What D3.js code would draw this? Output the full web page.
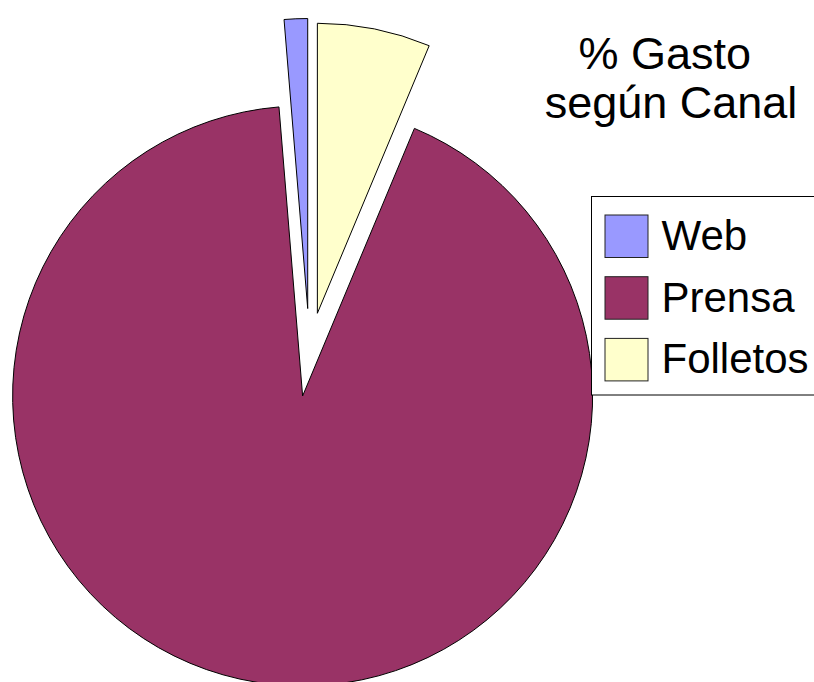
<!DOCTYPE html>
<html>
<head>
<meta charset="utf-8">
<script src="https://cdn.jsdelivr.net/npm/d3@7"></script>
<style>
  html, body { margin: 0; padding: 0; background: #fff; }
  svg { display: block; font-family: "Liberation Sans", Arial, sans-serif; }
</style>
</head>
<body>
<svg id="chart" width="814" height="682"></svg>
<script>
// Spending share by channel (%)
const categories = ["Web", "Prensa", "Folletos"];
const values = [1.3, 92.4, 6.3];
const colors = ["#9999ff", "#993366", "#ffffcc"];
// how far each slice is pulled out from the centre, in px
const explode = [44, 44, 40];
const titleLines = ["% Gasto ", "según Canal"];

const svg = d3.select("#chart");
const W = 814, H = 682;

const radius = 290;
const cx = 309.5, cy = 352.5;

const data = categories.map((c, i) => ({ name: c, value: values[i], color: colors[i], explode: explode[i] }));

// slices run counter‑clockwise from 12 o'clock
const pie = d3.pie().value(d => d.value).sort(null).startAngle(0).endAngle(-2 * Math.PI);
const arc = d3.arc().innerRadius(0).outerRadius(radius);

const g = svg.append("g").attr("transform", `translate(${cx},${cy})`);

g.selectAll("path.slice")
  .data(pie(data))
  .join("path")
  .attr("class", "slice")
  .attr("d", arc)
  .attr("fill", d => d.data.color)
  .attr("stroke", "#000")
  .attr("stroke-width", 1)
  .attr("stroke-linejoin", "round")
  .attr("transform", d => {
    const mid = (d.startAngle + d.endAngle) / 2;
    const dx = Math.sin(mid) * d.data.explode;
    const dy = -Math.cos(mid) * d.data.explode;
    return `translate(${dx},${dy})`;
  });

// title, two centred lines
const title = svg.append("text")
  .attr("text-anchor", "middle")
  .attr("font-size", 45)
  .attr("fill", "#000")
  .style("white-space", "pre");
titleLines.forEach((t, i) => {
  title.append("tspan")
    .attr("x", 671)
    .attr("y", 68.5 + i * 49.4)
    .text(t);
});

// legend
const legend = svg.append("g").attr("transform", "translate(591.5,196.5)");
legend.append("rect")
  .attr("x", 0).attr("y", 0)
  .attr("width", W - 591.5 + 10).attr("height", 198.5)
  .attr("fill", "#fff")
  .attr("stroke", "#000")
  .attr("stroke-width", 1);

const item = legend.selectAll("g.item")
  .data(data)
  .join("g")
  .attr("class", "item")
  .attr("transform", (d, i) => `translate(0,${i * 61.7})`);

item.append("rect")
  .attr("x", 13.5).attr("y", 18.5)
  .attr("width", 43).attr("height", 42.5)
  .attr("fill", d => d.color)
  .attr("stroke", "#222")
  .attr("stroke-width", 1);

item.append("text")
  .attr("x", 70)
  .attr("y", 53.5)
  .attr("font-size", 42)
  .attr("fill", "#000")
  .text(d => d.name);
</script>
</body>
</html>
